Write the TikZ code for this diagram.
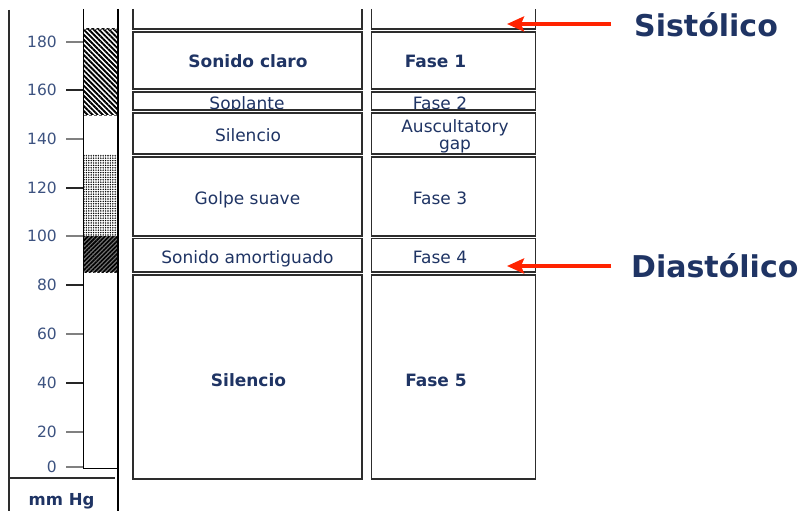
\documentclass[tikz,border=0pt]{standalone}
\usepackage{fontspec}
\setmainfont{DejaVu Sans}
\usetikzlibrary{patterns.meta,arrows.meta}
\definecolor{navy}{RGB}{31,52,100}
\definecolor{ticklab}{RGB}{60,82,128}
\definecolor{boxline}{RGB}{45,45,45}
\definecolor{arrred}{RGB}{255,35,0}
\begin{document}
\begin{tikzpicture}[x=1pt,y=-1pt,
  box/.style={draw=boxline,line width=1.4pt,inner sep=0pt,outer sep=0pt,anchor=north west},
  txt/.style={text=navy,font=\fontsize{17}{20}\selectfont,anchor=base,inner sep=0pt},
  btxt/.style={text=navy,font=\fontsize{17}{20}\selectfont\bfseries,anchor=base,inner sep=0pt},
  ticklabel/.style={text=ticklab,font=\fontsize{15.5}{18}\selectfont,anchor=base east,inner sep=0pt},
  biglabel/.style={text=navy,font=\fontsize{30}{34}\selectfont\bfseries,anchor=base west,inner sep=0pt},
  redarrow/.style={draw=arrred,line width=3.5pt,-{Stealth[length=17pt,width=15pt,inset=3pt]}},
  axisline/.style={draw=boxline,line width=1.2pt}
]
\useasboundingbox[fill=white] (0,0) rectangle (804,511);

% ---- scale bar patterns
\fill[pattern={Lines[angle=-45,distance=3.6pt,line width=1.9pt]}] (84,29) rectangle (117,115);
\fill[pattern={Dots[distance=2.4pt,radius=0.8pt]}] (84,154) rectangle (117,236);
\fill[black!55] (84,236) rectangle (117,272);
\fill[pattern={Lines[angle=45,distance=3pt,line width=1.7pt]}] (84,236) rectangle (117,272);
\draw[black!60,densely dashed,line width=0.6pt] (84,29) -- (117,29) (84,115) -- (117,115);

% ---- scale frame
\draw[axisline] (9,10) -- (9,511);
\draw[axisline] (9,478) -- (115,478);
\draw[black,line width=1pt] (83,9) -- (83,468) -- (118,468);
\draw[black,line width=2.2pt] (118,9) -- (118,511);

% ---- ticks and labels
\foreach \v/\yy/\c in {180/42/gray,160/90/black!85,140/139/gray,120/188/black!85,100/236/gray,80/285/black!85,60/334/gray,40/383/black!85,20/432/gray,0/467/gray}{
  \node[ticklabel] (t\v) at (57,\yy+5.5) {\v};
  \draw[line width=1.5pt,\c] (66,\yy) -- (83,\yy);
}
\node[text=navy,font=\fontsize{16.5}{19}\selectfont\bfseries,anchor=base,inner sep=0pt] (unit) at (61.5,505) {mm Hg};

% ---- open top boxes
\draw[boxline,line width=1.4pt] (133,9) -- (133,29) -- (362,29) -- (362,9);
\draw[boxline,line width=1.4pt] (371.5,9) -- (371.5,29) -- (535.5,29) -- (535.5,9);

% ---- boxes column 1
\node[box,minimum width=229pt,minimum height=57pt] (a1) at (133,32) {};
\node[box,minimum width=229pt,minimum height=18pt] (a2) at (133,92) {};
\node[box,minimum width=229pt,minimum height=41pt] (a3) at (133,113) {};
\node[box,minimum width=229pt,minimum height=79pt] (a4) at (133,157) {};
\node[box,minimum width=229pt,minimum height=33.5pt] (a5) at (133,238.5) {};
\node[box,minimum width=229pt,minimum height=204pt] (a6) at (133,275) {};
% ---- boxes column 2
\node[box,minimum width=164pt,minimum height=57pt] (b1) at (371.5,32) {};
\node[box,minimum width=164pt,minimum height=18pt] (b2) at (371.5,92) {};
\node[box,minimum width=164pt,minimum height=41pt] (b3) at (371.5,113) {};
\node[box,minimum width=164pt,minimum height=79pt] (b4) at (371.5,157) {};
\node[box,minimum width=164pt,minimum height=33.5pt] (b5) at (371.5,238.5) {};
\node[box,minimum width=164pt,minimum height=204pt] (b6) at (371.5,275) {};

% ---- texts column 1
\node[btxt] (ta1) at (248,68) {Sonido claro};
\begin{scope}
  \clip (a2.north west) rectangle (a2.south east);
  \node[txt] (ta2) at (247,109.5) {Soplante};
\end{scope}
\node[txt] (ta3) at (248,142) {Silencio};
\node[txt] (ta4) at (247.5,204) {Golpe suave};
\node[txt] (ta5) at (247.5,263) {Sonido amortiguado};
\node[btxt] (ta6) at (248.5,386) {Silencio};
% ---- texts column 2
\node[btxt] (tb1) at (435.5,68) {Fase 1};
\begin{scope}
  \clip (b2.north west) rectangle (b2.south east);
  \node[txt] (tb2) at (440,110) {Fase 2};
\end{scope}
\node[txt] (tb3a) at (455,132) {Auscultatory};
\node[txt] (tb3b) at (455,149.5) {gap};
\node[txt] (tb4) at (440,204) {Fase 3};
\node[txt] (tb5) at (440,263) {Fase 4};
\node[btxt] (tb6) at (436,386) {Fase 5};

% ---- labels and arrows
\node[biglabel] (sis) at (634,37) {Sistólico};
\node[biglabel] (dia) at (631,277) {Diastólico};
\coordinate (sisTail) at (611,24);
\coordinate (sisTip) at (507,24);
\coordinate (diaTail) at (611,266);
\coordinate (diaTip) at (507,266);
\draw[redarrow] (sisTail) -- (sisTip);
\draw[redarrow] (diaTail) -- (diaTip);
\end{tikzpicture}
\end{document}
